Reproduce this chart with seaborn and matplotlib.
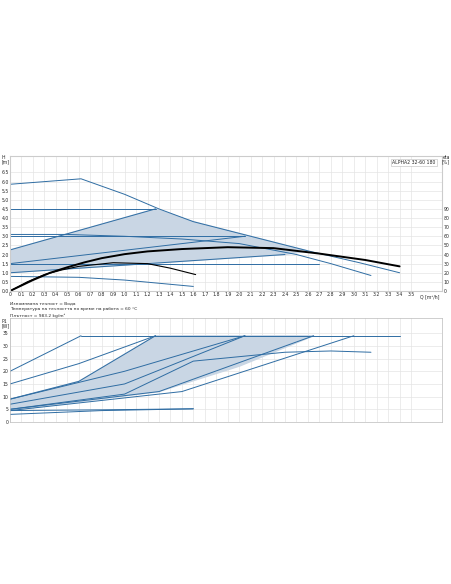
import numpy as np
import matplotlib.pyplot as plt
import seaborn as sns

sns.set_style("whitegrid")
plt.rcParams['font.family'] = ['DejaVu Sans']

blue = "#2f6da3"
fill = "#c9d6e4"

# top chart: Q [m3/h] vs H [m]
max_q = [0, 0.62, 1.0, 1.3, 1.6, 2.1, 2.6, 3.05, 3.4]
max_h = [5.85, 6.15, 5.3, 4.5, 3.8, 3.0, 2.2, 1.55, 1.0]
mid_q = [0, 0.5, 1.0, 1.5, 2.0, 2.5, 2.8, 3.15]
mid_h = [3.1, 3.1, 3.0, 2.85, 2.6, 2.0, 1.5, 0.85]
low_q = [0, 0.6, 1.0, 1.6]
low_h = [0.8, 0.75, 0.6, 0.25]
cp_levels = [4.5, 3.0, 1.5]
cp_ends = [1.27, 2.05, 2.7]
pp_start = [2.25, 1.5, 1.0]
pp_end_q = [1.27, 2.05, 2.4]
pp_end_h = [4.5, 3.0, 2.0]
eta_q = [0, 0.1, 0.2, 0.35, 0.5, 0.65, 0.8, 1.0, 1.2, 1.5, 1.9, 2.3, 2.7, 3.1, 3.4]
eta_h = [0, 0.3, 0.6, 1.0, 1.3, 1.57, 1.8, 2.02, 2.17, 2.3, 2.4, 2.35, 2.05, 1.7, 1.35]
eta2_q = [0, 0.15, 0.3, 0.45, 0.6, 0.9, 1.2, 1.4, 1.62]
eta2_h = [0, 0.5, 0.9, 1.15, 1.35, 1.55, 1.5, 1.25, 0.9]
area_q = [0, 1.27, 1.6, 2.1, 2.6, 2.4, 0]
area_h = [2.25, 4.5, 3.8, 3.0, 2.2, 2.0, 1.0]

# bottom chart: Q vs P1 [W]
p_top_q = [0.62, 3.4]
p_top = [34, 34]
p_lines = [
    ([0, 0.62], [20, 34]),
    ([0, 0.6, 1.27], [15, 23, 34]),
    ([0, 0.6, 1.27], [9, 16, 34]),
    ([0, 1.0, 2.05], [9, 20, 34]),
    ([0, 1.0, 2.05], [7, 15, 34]),
    ([0, 1.3, 2.65], [5, 12, 34]),
    ([0, 1.5, 3.0], [4.5, 12, 34]),
    ([0, 1.0, 1.6, 2.4, 2.8, 3.15], [5, 11, 24, 27.5, 28, 27.5]),
    ([0, 0.8, 1.6], [3, 4.5, 5.2]),
    ([0, 0.8, 1.6], [4.5, 4.8, 5.2]),
]
p_area_q = [0, 0.6, 1.27, 2.05, 2.65, 2.0, 1.3, 0]
p_area_h = [9, 16, 34, 34, 34, 22, 12, 4.5]

fig = plt.figure(figsize=(4.52, 5.84), dpi=100)
ax1 = fig.add_axes([10/452, 1-291/584, 432/452, 135/584])
ax2 = fig.add_axes([10/452, 1-422/584, 432/452, 104/584])

for ax in (ax1, ax2):
    ax.set_xlim(0, 3.77)
    ax.set_xticks(np.round(np.arange(0, 3.51, 0.1), 1))
    ax.tick_params(labelsize=3.3, length=0, pad=1)
    ax.grid(color="#e4e4e4", lw=0.5)
    for s in ax.spines.values():
        s.set_color("#bbbbbb")
        s.set_linewidth(0.5)

ax1.fill(area_q, area_h, color=fill, zorder=1)
ax1.plot(max_q, max_h, color=blue, lw=0.7)
ax1.plot(mid_q, mid_h, color=blue, lw=0.7)
ax1.plot(low_q, low_h, color=blue, lw=0.7)
for lvl, e in zip(cp_levels, cp_ends):
    ax1.plot([0, e], [lvl, lvl], color=blue, lw=0.7)
for s, q, h in zip(pp_start, pp_end_q, pp_end_h):
    ax1.plot([0, q], [s, h], color=blue, lw=0.7)
ax1.plot(eta_q, eta_h, color="black", lw=1.4)
ax1.plot(eta2_q, eta2_h, color="black", lw=0.8)
ax1.set_ylim(0, 7.4)
ax1.set_yticks(np.arange(0, 6.6, 0.5))
ax1.set_yticklabels([f"{v:.1f}" for v in np.arange(0, 6.6, 0.5)])
ax1.set_xticklabels([("0" if v == 0 else f"{v:.1f}") for v in np.arange(0, 3.51, 0.1)])
fig.text(2/452, 1-155/584, "H\n[m]", fontsize=3.3, ha="left", va="top", linespacing=0.9)
ax1.text(3.75, -0.2, "Q [m³/h]", fontsize=3.3, ha="right", va="top")
ax1.text(0.985, 0.97, "ALPHA2 32-60 180", transform=ax1.transAxes, fontsize=3.3,
         ha="right", va="top", bbox=dict(fc="white", ec="#bbbbbb", lw=0.4, pad=1))
axr = ax1.twinx()
axr.set_ylim(0, 148)
axr.set_yticks(np.arange(0, 91, 10))
axr.tick_params(labelsize=3.3, length=0, pad=1)
axr.grid(False)
fig.text(450/452, 1-155/584, "eta\n[%]", fontsize=3.3, ha="right", va="top", linespacing=0.9)

ax1.text(0, -0.09, "Изпомпвана течност = Вода", transform=ax1.transAxes, fontsize=3.2, va="center")
ax1.text(0, -0.135, "Температура на течността по време на работа = 60 °C", transform=ax1.transAxes, fontsize=3.2, va="center")
ax1.text(0, -0.18, "Плътност = 983.2 kg/m³", transform=ax1.transAxes, fontsize=3.2, va="center")

ax2.fill(p_area_q, p_area_h, color=fill, zorder=1)
ax2.plot(p_top_q, p_top, color=blue, lw=0.7)
for q, p in p_lines:
    ax2.plot(q, p, color=blue, lw=0.7)
ax2.set_ylim(0, 41)
ax2.set_yticks(np.arange(0, 36, 5))
ax2.set_xticklabels([])
fig.text(2/452, 1-319/584, "P1\n[W]", fontsize=3.3, ha="left", va="top", linespacing=0.9)

fig.savefig("out.png", dpi=100)
